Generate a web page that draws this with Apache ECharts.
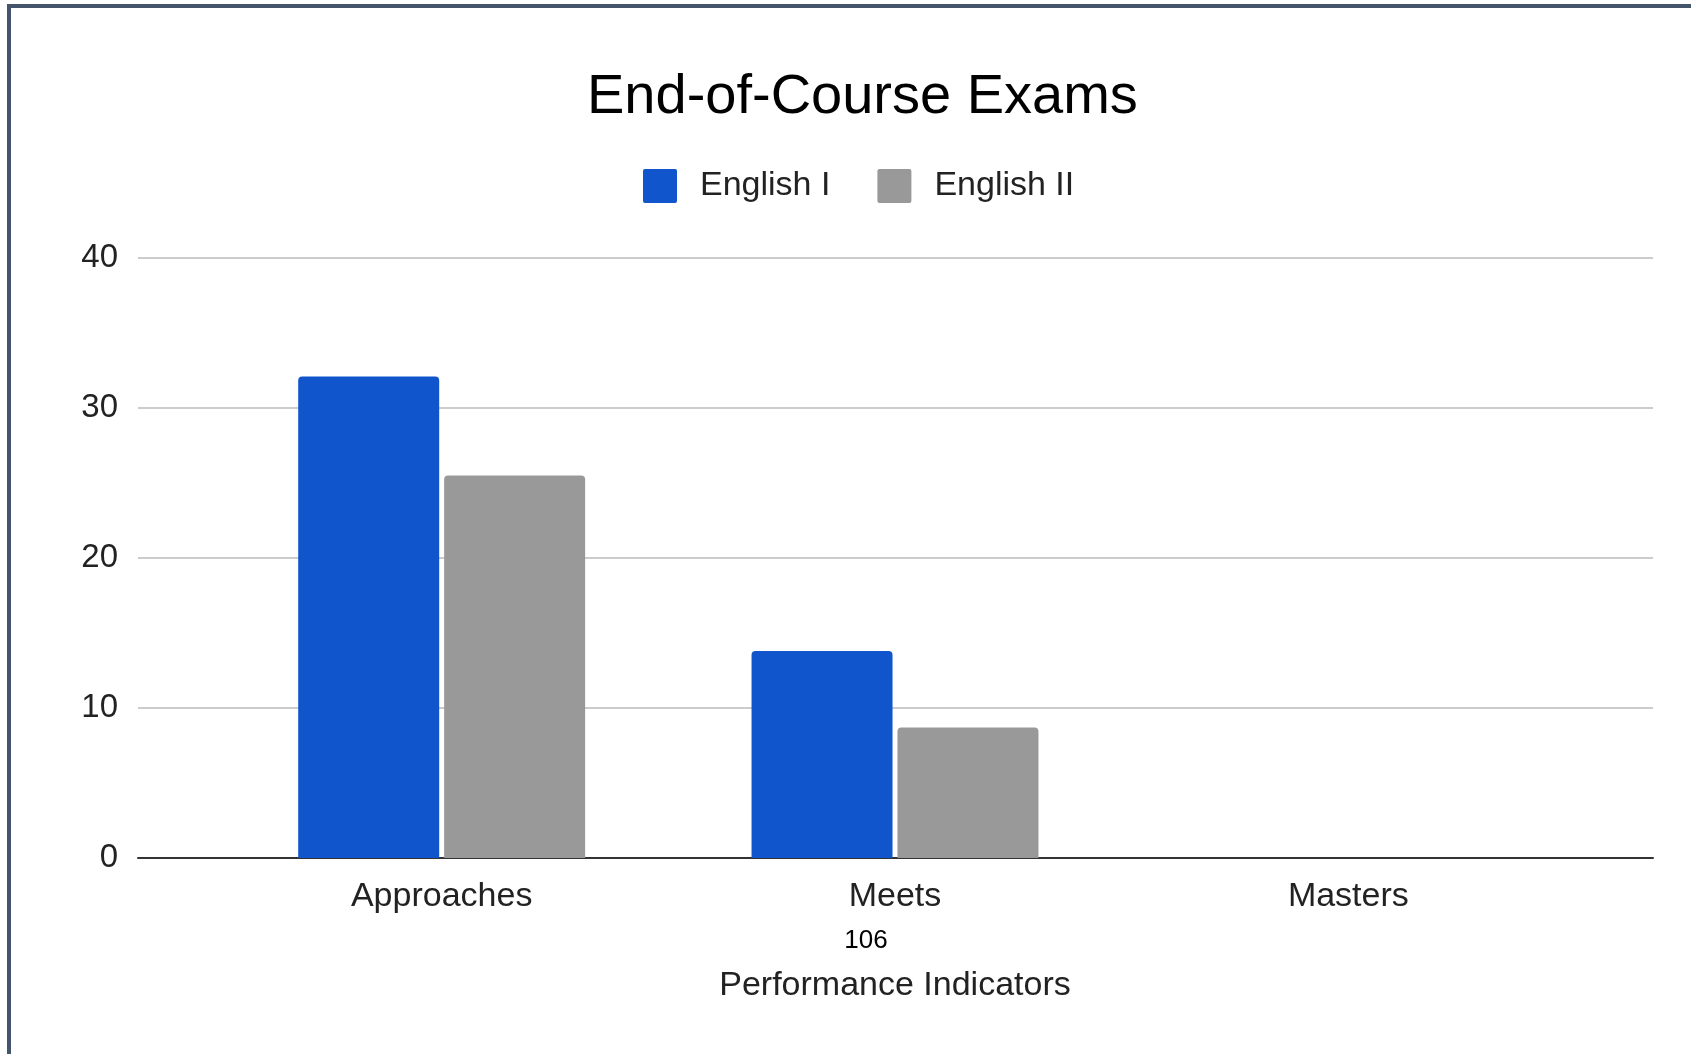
<!DOCTYPE html>
<html>
<head>
<meta charset="utf-8">
<title>End-of-Course Exams</title>
<script src="https://cdn.jsdelivr.net/npm/echarts@6/dist/echarts.min.js"></script>
<style>
  html, body { margin: 0; padding: 0; background: #fff; }
  #chart { width: 1691px; height: 1054px; }
</style>
</head>
<body>
<div id="chart"></div>
<script>
// values
var categories = ['Approaches', 'Meets', 'Masters'];
var englishI = [32.1, 13.8, 0];
var englishII = [25.5, 8.7, 0];
var seriesNames = ['English I', 'English II'];
var yMin = 0, yMax = 40, yStep = 10;

var FONT = '"Liberation Sans", Arial, sans-serif';
var chart = echarts.init(document.getElementById('chart'));

chart.setOption({
    backgroundColor: '#fff',
    animation: false,
    textStyle: { fontFamily: FONT },
    title: {
        text: 'End-of-Course Exams',
        left: 582,
        top: 65,
        textStyle: { fontSize: 56, fontWeight: 'normal', color: '#000', fontFamily: FONT }
    },
    legend: {
        data: seriesNames,
        left: 638,
        top: 164,
        icon: 'path://M2,0 H32 Q34,0 34,2 V32 Q34,34 32,34 H2 Q0,34 0,32 V2 Q0,0 2,0 Z',
        itemWidth: 34,
        itemHeight: 34,
        itemGap: 47,
        textStyle: { fontSize: 34, color: '#222', fontFamily: FONT, padding: [0, 0, 0, 18] }
    },
    grid: [
        // gridlines + y labels, wider than the category band area
        { left: 138, right: 38, top: 258, bottom: 196 },
        // bars
        { left: 215, right: 116, top: 258, bottom: 196 }
    ],
    xAxis: [
        {
            gridIndex: 0, type: 'value', min: 0, max: 1,
            axisLine: { show: true, lineStyle: { color: '#333', width: 2 } },
            axisTick: { show: false }, axisLabel: { show: false }, splitLine: { show: false }
        },
        {
            gridIndex: 1, type: 'category', data: categories,
            axisLine: { show: false }, axisTick: { show: false },
            axisLabel: { fontSize: 34, color: '#222', margin: 22, fontFamily: FONT },
            name: 'Performance Indicators',
            nameLocation: 'middle',
            nameGap: 111,
            nameTextStyle: { fontSize: 34, color: '#222', fontFamily: FONT }
        }
    ],
    yAxis: [
        {
            gridIndex: 0, type: 'value', min: yMin, max: yMax, interval: yStep,
            axisLine: { show: false }, axisTick: { show: false },
            axisLabel: { fontSize: 33, color: '#222', margin: 20, fontFamily: FONT },
            splitLine: { lineStyle: { color: '#cccccc', width: 2 } }
        },
        {
            gridIndex: 1, type: 'value', min: yMin, max: yMax, interval: yStep, show: false,
            splitLine: { show: false }
        }
    ],
    series: [
        {
            name: seriesNames[0], type: 'bar', xAxisIndex: 1, yAxisIndex: 1,
            data: englishI, barWidth: 141, barGap: '3.5%',
            itemStyle: { color: '#1155cc', borderRadius: [4, 4, 0, 0] }
        },
        {
            name: seriesNames[1], type: 'bar', xAxisIndex: 1, yAxisIndex: 1,
            data: englishII, barWidth: 141, barGap: '3.5%',
            itemStyle: { color: '#999999', borderRadius: [4, 4, 0, 0] }
        }
    ],
    graphic: [
        { type: 'rect', shape: { x: 7, y: 4, width: 4, height: 1050 }, style: { fill: '#44546a' } },
        { type: 'rect', shape: { x: 7, y: 4, width: 1684, height: 4 }, style: { fill: '#44546a' } },
        {
            type: 'text', x: 866, y: 941,
            style: { text: '106', fontSize: 26, fill: '#000', fontFamily: FONT, textAlign: 'center', textVerticalAlign: 'middle' }
        }
    ]
});
</script>
</body>
</html>
